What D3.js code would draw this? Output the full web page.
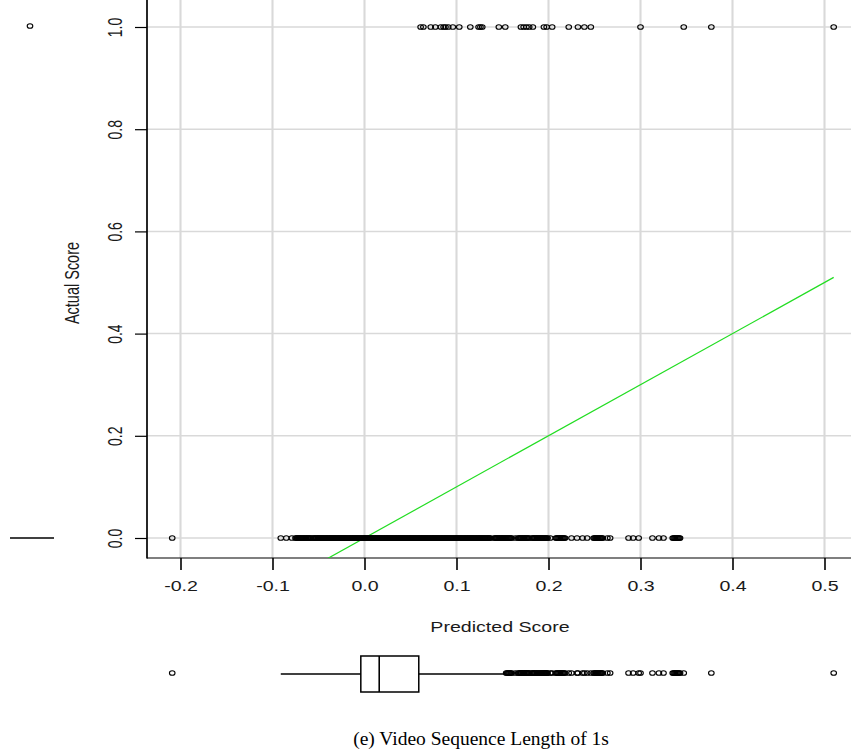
<!DOCTYPE html>
<html>
<head>
<meta charset="utf-8">
<script src="https://cdn.jsdelivr.net/npm/d3@7"></script>
<style>
  body { margin: 0; background: #fff; }
</style>
</head>
<body>
<svg id="chart" width="851" height="756"></svg>
<script>
// tick labels
const xTicks = [-0.2, -0.1, 0.0, 0.1, 0.2, 0.3, 0.4, 0.5];
const yTicks = [0.0, 0.2, 0.4, 0.6, 0.8, 1.0];

// predicted scores of the samples whose actual score is 1
const predictedAt1 = [0.061, 0.064, 0.072, 0.077, 0.083, 0.086, 0.088, 0.091, 0.096, 0.103,
  0.115, 0.124, 0.126, 0.128, 0.146, 0.153, 0.170, 0.173, 0.176, 0.179,
  0.183, 0.195, 0.198, 0.204, 0.222, 0.232, 0.239, 0.246, 0.300, 0.347,
  0.377, 0.510];

// predicted scores of the samples whose actual score is 0
const predictedAt0 = [-0.209, -0.091, -0.085, -0.079,
  -0.075, -0.074, -0.073, -0.072, -0.071, -0.070, -0.069, -0.068, -0.067, -0.066,
  -0.065, -0.064, -0.063, -0.062, -0.061, -0.060, -0.059, -0.058, -0.056, -0.055,
  -0.054, -0.053, -0.052, -0.051, -0.050, -0.049, -0.048, -0.047, -0.046, -0.045,
  -0.044, -0.043, -0.042, -0.041, -0.040, -0.039, -0.038, -0.037, -0.036, -0.035,
  -0.034, -0.033, -0.032, -0.031, -0.030, -0.029, -0.028, -0.027, -0.026, -0.025,
  -0.024, -0.023, -0.022, -0.021, -0.020, -0.019, -0.018, -0.017, -0.016, -0.015,
  -0.014, -0.013, -0.012, -0.011, -0.010, -0.009, -0.008, -0.007, -0.006, -0.005,
  -0.004, -0.003, -0.002, -0.001, 0.000, 0.001, 0.002, 0.003, 0.004, 0.005,
  0.006, 0.007, 0.008, 0.009, 0.010, 0.011, 0.012, 0.013, 0.014, 0.015,
  0.016, 0.017, 0.018, 0.019, 0.020, 0.021, 0.022, 0.023, 0.024, 0.025,
  0.026, 0.027, 0.028, 0.029, 0.030, 0.031, 0.032, 0.033, 0.034, 0.035,
  0.036, 0.037, 0.038, 0.039, 0.040, 0.041, 0.042, 0.043, 0.044, 0.045,
  0.046, 0.047, 0.048, 0.049, 0.050, 0.051, 0.052, 0.053, 0.054, 0.055,
  0.056, 0.057, 0.058, 0.059, 0.060, 0.061, 0.062, 0.063, 0.064, 0.065,
  0.066, 0.067, 0.068, 0.069, 0.070, 0.071, 0.072, 0.073, 0.074, 0.075,
  0.076, 0.077, 0.078, 0.079, 0.080, 0.081, 0.082, 0.083, 0.084, 0.085,
  0.086, 0.087, 0.088, 0.089, 0.090, 0.091, 0.092, 0.093, 0.094, 0.095,
  0.096, 0.097, 0.098, 0.099, 0.100, 0.101, 0.102, 0.103, 0.104, 0.105,
  0.106, 0.107, 0.108, 0.109, 0.110, 0.111, 0.112, 0.113, 0.114, 0.115,
  0.116, 0.117, 0.118, 0.119, 0.120, 0.121, 0.122, 0.123, 0.124, 0.125,
  0.126, 0.127, 0.128, 0.129, 0.130, 0.131, 0.132, 0.133, 0.134, 0.135,
  0.136, 0.137,
  0.141, 0.142, 0.143, 0.144, 0.145, 0.146, 0.147, 0.148, 0.149, 0.150,
  0.151, 0.152, 0.153, 0.154, 0.155, 0.156, 0.157, 0.158, 0.159, 0.160,
  0.164,
  0.167, 0.168, 0.169, 0.170, 0.171, 0.172, 0.173, 0.174, 0.175, 0.176,
  0.177, 0.178, 0.179, 0.182, 0.183, 0.184, 0.185, 0.186, 0.187, 0.188,
  0.189, 0.190, 0.191, 0.192, 0.193, 0.194, 0.195, 0.196, 0.197, 0.198, 0.199,
  0.202,
  0.208, 0.209, 0.210, 0.211, 0.212, 0.213, 0.214, 0.215, 0.216, 0.217, 0.218,
  0.225, 0.231, 0.237, 0.242,
  0.249, 0.250, 0.251, 0.252, 0.253, 0.254, 0.255, 0.256, 0.257, 0.258, 0.259,
  0.264, 0.267,
  0.287, 0.292, 0.298,
  0.313, 0.320, 0.325,
  0.335, 0.336, 0.337, 0.338, 0.339, 0.340, 0.341, 0.342, 0.343];

// marginal box plot of the predicted score: lower whisker, Q1, median, Q3, upper whisker
const predictedBox = [-0.091, -0.004, 0.016, 0.059, 0.153];
// marginal box plot of the actual score (all quartiles collapse to 0)
const actualBox = [0, 0, 0, 0, 0];
const actualOutliers = [1];

// y = x reference line
const refLine = [-0.21, 0.51];

const sans = '"Liberation Sans", Arial, sans-serif';
const serif = '"Liberation Serif", "Times New Roman", serif';
const stretch = 1.4; // the original plot is widened horizontally

const svg = d3.select('#chart');
const plot = {left: 147, right: 851, top: 0, bottom: 558};

const x = d3.scaleLinear().domain([-0.2, 0.5]).range([180.5, 824.5]);
const y = d3.scaleLinear().domain([0, 1]).range([538, 27]);

svg.append('defs').append('clipPath').attr('id', 'plotClip')
  .append('rect')
  .attr('x', plot.left).attr('y', plot.top)
  .attr('width', plot.right - plot.left).attr('height', plot.bottom - plot.top);

// grid
const grid = svg.append('g').attr('stroke', '#d9d9d9');
grid.selectAll('.vgrid').data(xTicks).join('line')
  .attr('stroke-width', 2.1)
  .attr('x1', d => x(d)).attr('x2', d => x(d))
  .attr('y1', plot.top).attr('y2', plot.bottom);
grid.selectAll('.hgrid').data(yTicks).join('line')
  .attr('stroke-width', 1.5)
  .attr('x1', plot.left).attr('x2', plot.right)
  .attr('y1', d => y(d)).attr('y2', d => y(d));

// axes
const fmt = d => d.toFixed(1);
const xAxisG = svg.append('g')
  .attr('transform', `translate(0, ${plot.bottom})`)
  .call(d3.axisBottom(x).tickValues(xTicks).tickSize(12).tickPadding(11).tickFormat(fmt));
const yAxisG = svg.append('g')
  .attr('transform', `translate(${plot.left}, 0)`)
  .call(d3.axisLeft(y).tickValues(yTicks).tickSize(12).tickFormat(fmt));

[xAxisG, yAxisG].forEach(g => {
  g.select('.domain').remove();
  g.selectAll('.tick text').attr('fill', '#1a1a1a')
    .style('font-size', '14px').style('font-family', sans);
});
xAxisG.selectAll('.tick line').attr('stroke', '#000').attr('stroke-width', 1.6);
yAxisG.selectAll('.tick line').attr('stroke', '#000').attr('stroke-width', 1.2);
xAxisG.selectAll('.tick text').attr('transform', `scale(${stretch}, 1)`);
yAxisG.selectAll('.tick text')
  .attr('transform', `scale(${stretch}, 1) rotate(-90)`)
  .attr('text-anchor', 'middle')
  .attr('x', 0).attr('y', -18).attr('dy', 0);

svg.append('line').attr('stroke', '#000').attr('stroke-width', 1.7)
  .attr('x1', plot.left).attr('x2', plot.left).attr('y1', plot.top).attr('y2', plot.bottom + 0.6);
svg.append('line').attr('stroke', '#000').attr('stroke-width', 1.2)
  .attr('x1', plot.left).attr('x2', plot.right).attr('y1', plot.bottom).attr('y2', plot.bottom);

// axis titles
svg.append('text').attr('transform', `translate(500, 632) scale(${stretch}, 1)`).attr('text-anchor', 'middle')
  .style('font-size', '14px').style('font-family', sans).attr('fill', '#1a1a1a').text('Predicted Score');
svg.append('text').attr('transform', `translate(79, 283) scale(${stretch}, 1) rotate(-90)`).attr('text-anchor', 'middle')
  .style('font-size', '14.5px').style('font-family', sans).attr('fill', '#1a1a1a').text('Actual Score');

// reference line
svg.append('line')
  .attr('clip-path', 'url(#plotClip)')
  .attr('x1', x(refLine[0])).attr('y1', y(refLine[0]))
  .attr('x2', x(refLine[1])).attr('y2', y(refLine[1]))
  .attr('stroke', '#22dd22').attr('stroke-width', 1.2);

// points
const pointStyle = sel => sel.attr('rx', 2.8).attr('ry', 2.3)
  .attr('fill', 'none').attr('stroke', '#000').attr('stroke-width', 1.1);
const points = predictedAt0.map(p => ({p, a: 0})).concat(predictedAt1.map(p => ({p, a: 1})));
svg.append('g').selectAll('ellipse').data(points).join('ellipse')
  .attr('cx', d => x(d.p)).attr('cy', d => y(d.a)).call(pointStyle);

// bottom marginal box plot (predicted)
const by = 674, bh = 18;
const bx = svg.append('g').attr('stroke', '#000').attr('stroke-width', 1.3).attr('fill', 'none');
const [wLo, q1, med, q3, wHi] = predictedBox;
bx.append('line').attr('x1', x(wLo)).attr('x2', x(q1)).attr('y1', by).attr('y2', by);
bx.append('line').attr('x1', x(q3)).attr('x2', x(wHi)).attr('y1', by).attr('y2', by);
bx.append('rect').attr('x', x(q1)).attr('y', by - bh).attr('width', x(q3) - x(q1)).attr('height', 2 * bh)
  .attr('stroke-width', 1.5);
bx.append('line').attr('x1', x(med)).attr('x2', x(med)).attr('y1', by - bh).attr('y2', by + bh)
  .attr('stroke-width', 1.6);
const allPred = predictedAt0.concat(predictedAt1).filter(v => v < wLo || v > wHi);
svg.append('g').selectAll('ellipse').data(allPred).join('ellipse')
  .attr('cx', d => x(d)).attr('cy', by - 1).call(pointStyle);

// left marginal box plot (actual)
const lx = 32, lw = 22;
svg.append('line').attr('x1', lx - lw).attr('x2', lx + lw)
  .attr('y1', y(actualBox[2])).attr('y2', y(actualBox[2]))
  .attr('stroke', '#000').attr('stroke-width', 1.3);
svg.append('g').selectAll('ellipse').data(actualOutliers).join('ellipse')
  .attr('cx', lx - 2).attr('cy', d => y(d) - 1).call(pointStyle);

// caption
svg.append('text').attr('x', 481).attr('y', 745).attr('text-anchor', 'middle')
  .style('font-family', serif).style('font-size', '19.5px').attr('fill', '#000')
  .text('(e) Video Sequence Length of 1s');
</script>
</body>
</html>
